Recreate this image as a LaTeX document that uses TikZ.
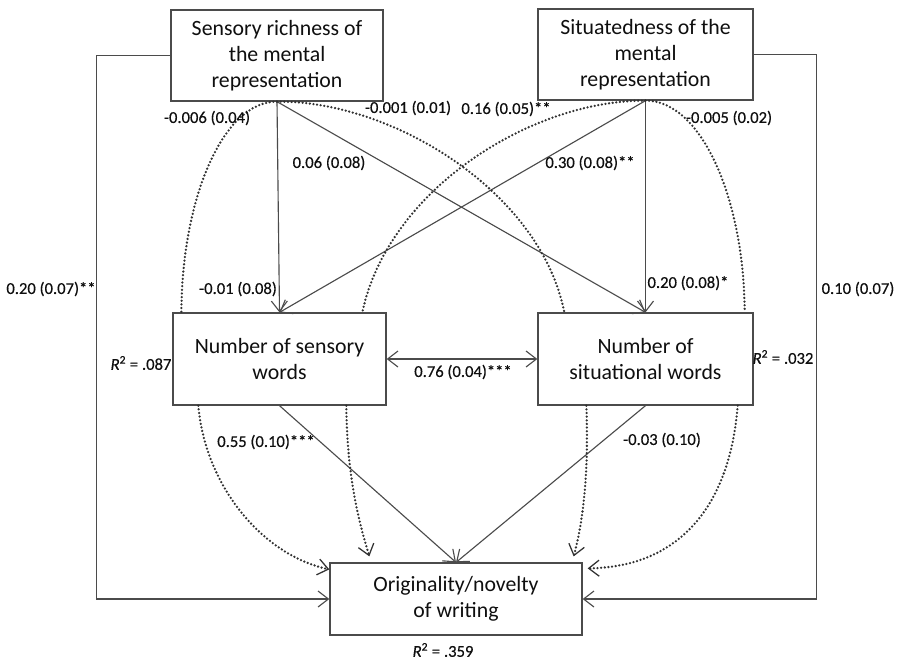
\documentclass[tikz,border=0pt]{standalone}
\usepackage{fontspec}
\setmainfont{Carlito}
\usetikzlibrary{arrows.meta, calc}
\definecolor{linegray}{RGB}{75, 75, 75}
\definecolor{dotgray}{RGB}{50, 50, 50}
\definecolor{textgray}{RGB}{15, 15, 15}

\begin{document}
\begin{tikzpicture}[x=0.025cm, y=-0.025cm,
  varbox/.style={draw=linegray, line width=0.9pt, fill=white, align=center, inner sep=0pt, text=textgray, font=\fontsize{15.5}{18.5}\selectfont},
  solidarr/.style={draw=linegray, line width=0.8pt, -{Straight Barb[length=2.6mm, width=4mm]}},
  dotline/.style={draw=dotgray, line width=1.8pt, line cap=round, dash pattern=on 0pt off 2.6pt},
  dotarr/.style={dotline, -{Straight Barb[length=2.6mm, width=4mm, line width=0.9pt, line cap=butt, sep=0pt]}},
  coef/.style={text=textgray, inner sep=1pt, font=\fontsize{11.8}{13}\selectfont\addfontfeatures{FakeBold=0.4}}]
  \useasboundingbox (0,0) rectangle (898,660);

  % Boxes
  \node[varbox, minimum width=5.3cm, minimum height=2.275cm] (sens) at (277, 55.5) {Sensory richness of\\the mental\\representation};
  \node[varbox, minimum width=5.375cm, minimum height=2.275cm] (situ) at (645.5, 54.5) {Situatedness of the\\mental\\representation};
  \node[varbox, minimum width=5.325cm, minimum height=2.3cm] (nsens) at (279.5, 359) {Number of sensory\\words};
  \node[varbox, minimum width=5.375cm, minimum height=2.3cm] (nsit) at (645.5, 359) {Number of\\situational words};
  \node[varbox, minimum width=6.3cm, minimum height=1.8cm] (orig) at (456, 599) {Originality/novelty\\of writing};

  % Direct paths, top level
  \draw[solidarr] (sens.south) -- (nsens.north);
  \draw[solidarr] (sens.south) -- (nsit.north);
  \draw[solidarr] (situ.south) -- (nsens.north);
  \draw[solidarr] (situ.south) -- (nsit.north);

  % Direct paths to the outcome
  \draw[solidarr] (nsens.south) -- (orig.north);
  \draw[solidarr] (nsit.south) -- (orig.north);
  \draw[solidarr] (sens.west) -- ++(-74, 0) |- (orig.west);
  \draw[solidarr] (situ.east) -- ++(63, 0) |- (orig.east);
  \draw[draw=linegray, line width=0.8pt, {Straight Barb[length=2.6mm, width=4mm]}-{Straight Barb[length=2.6mm, width=4mm]}] (nsens.east) -- (nsit.east -| nsit.west);

  % Indirect paths (dotted), upper halves
  \draw[dotline] (sens.south) .. controls (224, 101) and (182, 196) .. ($(nsens.north west)+(9, 0)$);
  \draw[dotline] (sens.south) .. controls (390, 100) and (540, 190) .. ($(nsit.north west)+(27, 0)$);
  \draw[dotline] (situ.south) .. controls (531, 100) and (388, 190) .. ($(nsens.north west)+(190, 0)$);
  \draw[dotline] (situ.south) .. controls (700, 100) and (744, 196) .. ($(nsit.north east)+(-9, 0)$);

  % Indirect paths (dotted), lower halves
  \draw[dotarr] ($(nsens.south west)+(26, 0)$) .. controls (205, 485) and (262, 555) .. ($(orig.north west)+(0, 7)$);
  \draw[dotarr] ($(nsens.south west)+(174, 0)$) .. controls (347, 480) and (360, 525) .. ($(orig.north west)+(40, -6)$);
  \draw[dotarr] ($(nsit.south west)+(49, 0)$) .. controls (589, 480) and (582, 525) .. ($(orig.north east)+(-9, -6)$);
  \draw[dotarr] ($(nsit.south east)+(-16, 0)$) .. controls (730, 505) and (680, 567) .. ($(orig.north east)+(5, 6)$);

  % Coefficients
  \node[coef] (c1) at (207, 118) {-0.006 (0.04)};
  \node[coef] (c2) at (408, 108) {-0.001 (0.01)};
  \node[coef] (c3) at (506, 109) {0.16 (0.05)**};
  \node[coef] (c4) at (729, 118) {-0.005 (0.02)};
  \node[coef] (c5) at (329, 163) {0.06 (0.08)};
  \node[coef] (c6) at (590, 163) {0.30 (0.08)**};
  \node[coef] (c7) at (238, 289) {-0.01 (0.08)};
  \node[coef] (c8) at (688, 283) {0.20 (0.08)*};
  \node[coef] (c9) at (51, 289) {0.20 (0.07)**};
  \node[coef] (c10) at (858, 289) {0.10 (0.07)};
  \node[coef] (c11) at (463, 372) {0.76 (0.04)***};
  \node[coef] (c12) at (266, 442) {0.55 (0.10)***};
  \node[coef] (c13) at (662, 440) {-0.03 (0.10)};

  % Explained variance
  \node[coef] (r1) at (141, 363) {\textit{R}\textsuperscript{2} = .087};
  \node[coef] (r2) at (783, 357) {\textit{R}\textsuperscript{2} = .032};
  \node[coef] (r3) at (443, 650) {\textit{R}\textsuperscript{2} = .359};
\end{tikzpicture}
\end{document}
